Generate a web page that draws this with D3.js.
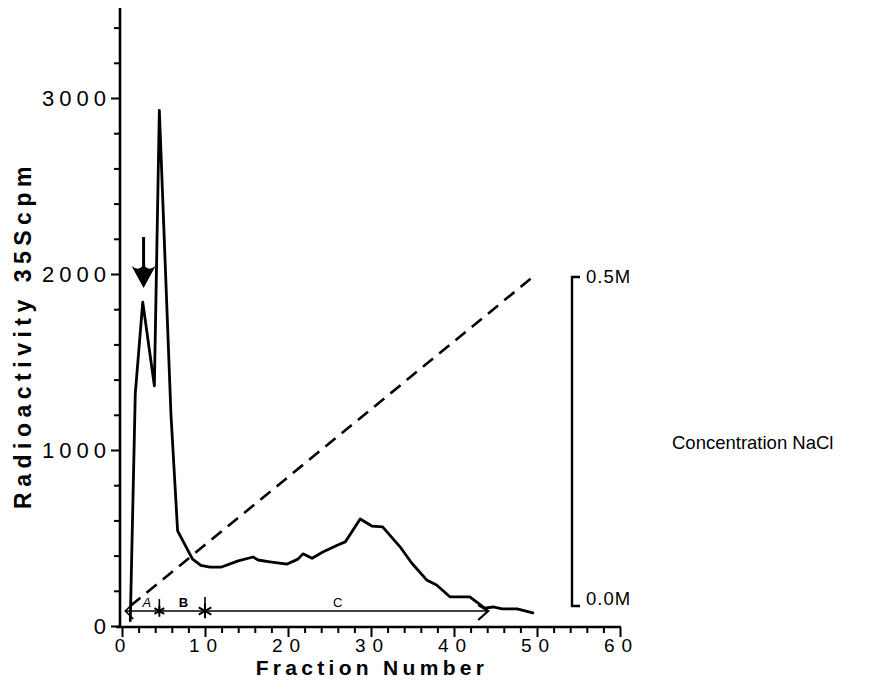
<!DOCTYPE html>
<html>
<head>
<meta charset="utf-8">
<script src="https://cdn.jsdelivr.net/npm/d3@7"></script>
<style>
  html, body { margin: 0; padding: 0; background: #fff; }
  svg { display: block; }
  text { font-family: "Liberation Sans", Arial, Helvetica, sans-serif; fill: #000; }
</style>
</head>
<body>
<svg id="chart" width="872" height="699"></svg>
<script>
// ---- data ----
const fractions = [1.0, 1.6, 2.5, 3.9, 4.5, 5.9, 6.7, 8.5, 9.5, 10.6, 12, 14, 15.8, 16.4, 17.8, 19.9, 21.2, 21.8, 22.9, 24.2, 26, 26.9, 28.7, 30.1, 31.4, 33.5, 34.9, 36.7, 37.9, 39.5, 41.9, 43.7, 44.7, 45.8, 47.6, 49.5];
const cpm = [30, 1320, 1840, 1365, 2930, 1200, 540, 380, 345, 335, 335, 370, 392, 375, 365, 352, 380, 410, 385, 420, 460, 478, 608, 568, 563, 450, 358, 262, 233, 166, 166, 102, 108, 97, 97, 74];
const gradientFractions = [1, 49.5];
const gradientNaCl = [0.0, 0.5];
const xTickValues = [0, 10, 20, 30, 40, 50, 60];
const yTickValues = [0, 1000, 2000, 3000];
const naclTicks = [0.0, 0.5];
const naclTickLabels = ["0.0M", "0.5M"];
const poolLabels = ["A", "B", "C"];
const poolLabelFractions = [3.0, 7.4, 26];
const poolBoundaryFractions = [4.5, 10];
const poolSpan = [0.4, 44];
const poolLineCpm = 85;
const arrowFraction = 2.6;
const arrowCpm = [2210, 1920];

// ---- layout ----
const svg = d3.select("#chart");
const x = d3.scaleLinear().domain([0, 60]).range([122, 620]);
const y = d3.scaleLinear().domain([0, 3500]).range([626, 10]);
const ys = d3.scaleLinear().domain([0, 0.5]).range([606, 277]);

// Y axis
const yAxis = d3.axisLeft(y)
  .tickValues(d3.range(0, 3501, 200))
  .tickSize(6).tickSizeOuter(0).tickPadding(4)
  .tickFormat(d => yTickValues.includes(d) ? String(d) : "");
const gy = svg.append("g").attr("transform", "translate(120,0)").call(yAxis);
gy.select(".domain").remove();
gy.selectAll(".tick line").attr("stroke", "#000").attr("stroke-width", 2)
  .attr("x2", d => yTickValues.includes(d) ? -9 : -6);
gy.selectAll(".tick text")
  .attr("x", -9)
  .style("font-size", "22px").style("letter-spacing", "5px");
svg.append("line").attr("x1", 120).attr("x2", 120).attr("y1", 8).attr("y2", 628)
  .attr("stroke", "#000").attr("stroke-width", 2.6);

// X axis
const xAxis = d3.axisBottom(x)
  .tickValues(d3.range(0, 61, 2))
  .tickSize(6).tickSizeOuter(0).tickPadding(6)
  .tickFormat(d => xTickValues.includes(d) ? String(d) : "");
const gx = svg.append("g").attr("transform", "translate(0,627)").call(xAxis);
gx.select(".domain").remove();
gx.selectAll(".tick line").attr("stroke", "#000").attr("stroke-width", 2)
  .attr("y2", d => xTickValues.includes(d) ? 10 : 6);
gx.selectAll(".tick text")
  .attr("y", 12)
  .style("font-size", "19px").style("letter-spacing", "7px")
  .attr("dx", "1px");
svg.append("line").attr("x1", 116).attr("x2", 621).attr("y1", 627).attr("y2", 627)
  .attr("stroke", "#000").attr("stroke-width", 2.6);

// Axis titles
svg.append("text")
  .attr("x", 372).attr("y", 675)
  .attr("text-anchor", "middle")
  .style("font-size", "21px").style("font-weight", "bold").style("letter-spacing", "4.3px")
  .text("Fraction  Number");
svg.append("text")
  .attr("transform", "translate(31,335) rotate(-90)")
  .attr("text-anchor", "middle")
  .style("font-size", "23px").style("font-weight", "bold").style("letter-spacing", "5.5px")
  .text("Radioactivity 35Scpm");

// Salt gradient (dashed)
const gradPts = gradientFractions.map((f, i) => [x(f), ys(gradientNaCl[i])]);
svg.append("path")
  .attr("d", d3.line()(gradPts))
  .attr("fill", "none").attr("stroke", "#000").attr("stroke-width", 2.6)
  .attr("stroke-dasharray", "13,8");

// Salt scale bracket
const sx = 572;
svg.append("path")
  .attr("d", d3.line()([[sx + 8, ys(0.5)], [sx, ys(0.5)], [sx, ys(0)], [sx + 8, ys(0)]]))
  .attr("fill", "none").attr("stroke", "#000").attr("stroke-width", 2.4);
svg.selectAll(".nacl").data(naclTicks).enter().append("text")
  .attr("x", sx + 14)
  .attr("y", (d, i) => ys(d) + (i === 0 ? -1 : 6))
  .style("font-size", "18.5px").style("letter-spacing", "1px")
  .text((d, i) => naclTickLabels[i]);
svg.append("text")
  .attr("x", 672).attr("y", 449)
  .style("font-size", "18.5px")
  .text("Concentration NaCl");

// Radioactivity profile
const line = d3.line().x(d => x(d[0])).y(d => y(d[1]));
svg.append("path")
  .attr("d", line(fractions.map((f, i) => [f, cpm[i]])))
  .attr("fill", "none").attr("stroke", "#000").attr("stroke-width", 2.8)
  .attr("stroke-linejoin", "round").attr("stroke-linecap", "round");

// Arrow marking applied sample
const ax = x(arrowFraction);
const ay0 = y(arrowCpm[0]), ay1 = y(arrowCpm[1]);
svg.append("line").attr("x1", ax).attr("x2", ax).attr("y1", ay0).attr("y2", ay1 - 10)
  .attr("stroke", "#000").attr("stroke-width", 3);
svg.append("path")
  .attr("d", `M${ax - 12},${ay1 - 22} Q${ax - 4},${ay1 - 16} ${ax},${ay1 - 24} Q${ax + 4},${ay1 - 16} ${ax + 12},${ay1 - 22} L${ax},${ay1} Z`)
  .attr("fill", "#000");

// Pool annotation line (A / B / C)
const py = y(poolLineCpm);
svg.append("line")
  .attr("x1", x(poolSpan[0])).attr("x2", x(poolSpan[1]))
  .attr("y1", py).attr("y2", py)
  .attr("stroke", "#000").attr("stroke-width", 1.6);
const lx = x(poolSpan[0]);
svg.append("path")
  .attr("d", `M${lx + 8},${py - 8} L${lx},${py} L${lx + 8},${py + 8}`)
  .attr("fill", "none").attr("stroke", "#000").attr("stroke-width", 1.6);
const rx = x(poolSpan[1]);
svg.append("path")
  .attr("d", `M${rx - 9},${py - 6} L${rx + 1},${py} L${rx - 9},${py + 9}`)
  .attr("fill", "none").attr("stroke", "#000").attr("stroke-width", 2.2);
svg.selectAll(".star").data(poolBoundaryFractions).enter().append("path")
  .attr("transform", (d, i) => `translate(${x(d)},${py})`)
  .attr("d", (d, i) => d3.symbol().type(d3.symbolAsterisk).size(i === 0 ? 90 : 150)())
  .attr("fill", "none").attr("stroke", "#000").attr("stroke-width", 2);
svg.selectAll(".bnd").data(poolBoundaryFractions).enter().append("line")
  .attr("x1", d => x(d)).attr("x2", d => x(d))
  .attr("y1", (d, i) => py - (i === 0 ? 12 : 14)).attr("y2", py)
  .attr("stroke", "#000").attr("stroke-width", 1.6);
svg.selectAll(".pool").data(poolLabels).enter().append("text")
  .attr("x", (d, i) => x(poolLabelFractions[i]))
  .attr("y", py - 4)
  .attr("text-anchor", "middle")
  .style("font-size", "13px").style("font-style", (d, i) => i === 0 ? "italic" : "normal")
  .style("font-weight", (d, i) => i === 1 ? "bold" : "normal")
  .text(d => d);
</script>
</body>
</html>
